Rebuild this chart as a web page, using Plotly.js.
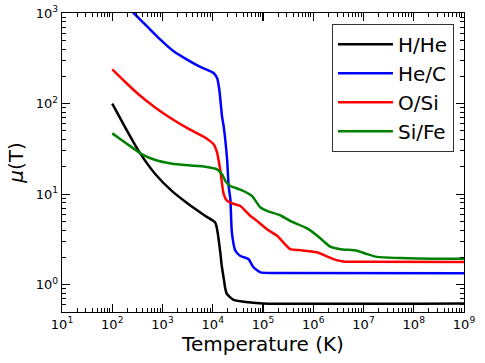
<!DOCTYPE html>
<html>
<head>
<meta charset="utf-8">
<script src="https://cdn.plot.ly/plotly-3.0.1.min.js"></script>
<style>
  html, body { margin: 0; padding: 0; background: white; }
  #plot { width: 485px; height: 363px; }
</style>
</head>
<body>
<div id="plot"></div>
<script>
// mean molecular weight vs temperature
const tHHe  = [1e2, 1.83e2, 3.37e2, 7.23e2, 1.55e3, 3.32e3, 7.13e3, 1.12e4, 1.22e4, 1.41e4, 1.51e4, 1.66e4, 1.78e4, 1.91e4, 2.6e4, 5.1e4, 1e5, 1e9];
const muHHe = [100, 54, 29.9, 16.6, 10.8, 7.74, 5.75, 4.86, 4.1, 2.29, 1.62, 1.16, 0.90, 0.79, 0.68, 0.64, 0.62, 0.62];

const tHeC  = [2.0e2, 2.67e2, 4.94e2, 9.08e2, 1.67e3, 3.08e3, 5.66e3, 1.04e4, 1.22e4, 1.35e4, 1.53e4, 1.65e4, 1.93e4, 2.07e4, 2.24e4, 2.4e4, 2.82e4, 3.55e4, 5.13e4, 6.46e4, 8.9e4, 1.62e5, 1e9];
const muHeC = [1175, 1000, 711, 508, 378, 306, 254, 218, 192, 143, 72, 56, 24.2, 12.3, 8.8, 3.78, 2.37, 2.08, 1.92, 1.56, 1.37, 1.35, 1.34];

const tOSi  = [1e2, 1.83e2, 3.37e2, 7.23e2, 1.55e3, 3.32e3, 7.13e3, 1.04e4, 1.22e4, 1.42e4, 1.65e4, 1.93e4, 2.57e4, 3.55e4, 5.62e4, 7.59e4, 1.2e5, 1.91e5, 3.47e5, 5.5e5, 1.17e6, 1.86e6, 2.51e6, 3.98e6, 1.17e7, 1e9];
const muOSi = [238, 172, 126, 90, 67.5, 52.5, 42, 35.5, 28.7, 18, 10, 8.41, 7.83, 7.41, 5.75, 5.07, 4.1, 3.47, 2.47, 2.41, 2.28, 2.06, 1.92, 1.81, 1.79, 1.78];

const tSiFe  = [1e2, 1.83e2, 3.93e2, 7.23e2, 1.55e3, 3.32e3, 7.13e3, 1.22e4, 1.53e4, 1.78e4, 2.24e4, 3.55e4, 6.03e4, 8.91e4, 1.2e5, 2.19e5, 3.47e5, 7.41e5, 1.17e6, 1.58e6, 2.19e6, 3.47e6, 7.41e6, 1.17e7, 1.86e7, 5.37e7, 2.45e8, 1e9];
const muSiFe = [46.9, 37, 27.5, 23.8, 21.7, 20.8, 20.1, 18.8, 16.6, 14.0, 12.3, 11.2, 9.55, 7.11, 6.53, 5.85, 5.07, 4.21, 3.52, 3.05, 2.63, 2.47, 2.37, 2.18, 2.03, 1.97, 1.93, 1.93];

const seriesNames = ['H/He', 'He/C', 'O/Si', 'Si/Fe'];
const seriesColors = ['black', '#0000ff', '#ff0000', '#008000'];

const xTickVals = [1e1, 1e2, 1e3, 1e4, 1e5, 1e6, 1e7, 1e8, 1e9];
const xTickText = ['10<sup>1</sup>', '10<sup>2</sup>', '10<sup>3</sup>', '10<sup>4</sup>', '10<sup>5</sup>', '10<sup>6</sup>', '10<sup>7</sup>', '10<sup>8</sup>', '10<sup>9</sup>'];
const yTickVals = [1, 10, 100, 1000];
const yTickText = ['10<sup>0</sup>', '10<sup>1</sup>', '10<sup>2</sup>', '10<sup>3</sup>'];

const xs = [tHHe, tHeC, tOSi, tSiFe];
const ys = [muHHe, muHeC, muOSi, muSiFe];

const traces = seriesNames.map(function(name, i) {
    return {
        x: xs[i],
        y: ys[i],
        name: name,
        mode: 'lines',
        type: 'scatter',
        line: { color: seriesColors[i], width: 2.5, shape: 'spline', smoothing: 0.5 }
    };
});

const font = 'DejaVu Sans, sans-serif';
const axisCommon = {
    type: 'log',
    showgrid: false,
    zeroline: false,
    showline: true,
    linecolor: 'black',
    linewidth: 1.3,
    mirror: 'ticks',
    ticks: 'inside',
    ticklen: 8,
    tickwidth: 1.2,
    tickcolor: 'black',
    tickmode: 'array',
    tickfont: { family: font, size: 13, color: 'black' },
    minor: { tickmode: 'linear', dtick: 'D1', ticks: 'inside', ticklen: 4, tickwidth: 1, tickcolor: 'black', showgrid: false }
};

const layout = {
    width: 485,
    height: 363,
    margin: { l: 61.5, r: 21, t: 13, b: 50.5 },
    paper_bgcolor: 'white',
    plot_bgcolor: 'white',
    showlegend: true,
    font: { family: font, color: 'black' },
    xaxis: Object.assign({}, axisCommon, {
        range: [1, 9],
        tickvals: xTickVals,
        ticktext: xTickText,
        title: { text: 'Temperature (K)', font: { family: font, size: 20, color: 'black' }, standoff: 1 }
    }),
    yaxis: Object.assign({}, axisCommon, {
        range: [-0.301, 3],
        tickvals: yTickVals,
        ticktext: yTickText,
        title: { text: '<i>μ</i>(T)', font: { family: font, size: 20, color: 'black' }, standoff: 6 }
    }),
    legend: {
        x: 0.975,
        y: 0.964,
        xanchor: 'right',
        yanchor: 'top',
        bgcolor: 'white',
        bordercolor: '#333',
        borderwidth: 1,
        itemwidth: 55,
        font: { family: font, size: 20, color: 'black' }
    }
};

Plotly.newPlot('plot', traces, layout, { displayModeBar: false, staticPlot: true });
</script>
</body>
</html>
